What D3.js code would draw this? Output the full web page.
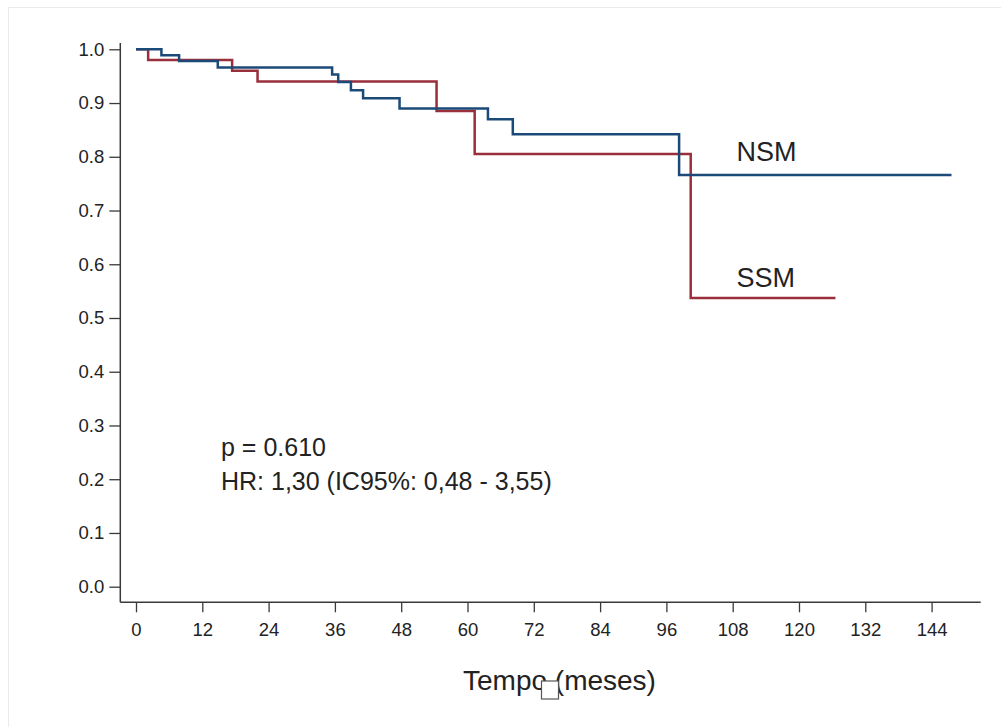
<!DOCTYPE html>
<html>
<head>
<meta charset="utf-8">
<script src="https://cdn.jsdelivr.net/npm/d3@7"></script>
<style>
  body { margin: 0; background: #fff; }
  svg { display: block; font-family: "Liberation Sans", Arial, sans-serif; }
  .axis text { fill: #222; }
  .axis line, .axis path { stroke: #3a3a3a; }
</style>
</head>
<body>
<div id="chart"></div>
<script>
// Kaplan-Meier steps (months, survival)
var nsmTime = [0, 4.6, 7.8, 14.8, 35.5, 36.6, 38.9, 41.1, 47.7, 63.7, 68.2, 98.3, 147.6];
var nsmSurv = [1.0, 0.989, 0.978, 0.966, 0.953, 0.939, 0.924, 0.909, 0.890, 0.870, 0.842, 0.766, 0.766];
var ssmTime = [0, 2.2, 17.4, 22.0, 54.4, 61.3, 100.4, 126.6];
var ssmSurv = [1.0, 0.980, 0.960, 0.940, 0.885, 0.805, 0.537, 0.537];

var xTicks = [0, 12, 24, 36, 48, 60, 72, 84, 96, 108, 120, 132, 144];
var yTicks = [0.0, 0.1, 0.2, 0.3, 0.4, 0.5, 0.6, 0.7, 0.8, 0.9, 1.0];
var seriesNames = ["NSM", "SSM"];
var notes = ["p = 0.610", "HR: 1,30 (IC95%: 0,48 - 3,55)"];
var xTitle = "Tempo (meses)";

var W = 1001, H = 727;

var svg = d3.select("#chart").append("svg")
    .attr("width", W)
    .attr("height", H);

// faint frame of the original picture
svg.append("rect")
    .attr("x", 8.5).attr("y", 7.5)
    .attr("width", W).attr("height", H)
    .attr("fill", "#fff")
    .attr("stroke", "#ebebeb");

var x = d3.scaleLinear().domain([0, 144]).range([136, 931.6]);
var y = d3.scaleLinear().domain([0, 1]).range([586.7, 49.3]);

var axisX = 120.3, axisY = 602.3;

// x axis
var gx = svg.append("g")
    .attr("class", "axis")
    .attr("transform", "translate(0," + axisY + ")")
    .call(d3.axisBottom(x).tickValues(xTicks).tickSize(10).tickPadding(11).tickSizeOuter(0));
gx.select(".domain").remove();
gx.selectAll("text").style("font-size", "18.5px");
gx.selectAll("line").attr("stroke-width", 1.3);
gx.append("line")
    .attr("x1", axisX).attr("x2", 980.7)
    .attr("stroke", "#3a3a3a").attr("stroke-width", 1.5);

// y axis
var gy = svg.append("g")
    .attr("class", "axis")
    .attr("transform", "translate(" + axisX + ",0)")
    .call(d3.axisLeft(y).tickValues(yTicks).tickFormat(d3.format(".1f")).tickSize(11).tickPadding(5).tickSizeOuter(0));
gy.select(".domain").remove();
gy.selectAll("text").style("font-size", "18.5px");
gy.selectAll("line").attr("stroke-width", 1.3);
gy.append("line")
    .attr("y1", y(1) - 6.3).attr("y2", axisY)
    .attr("stroke", "#3a3a3a").attr("stroke-width", 1.5);

// survival curves
var line = d3.line()
    .x(function(d) { return x(d[0]); })
    .y(function(d) { return y(d[1]); })
    .curve(d3.curveStepAfter);

var nsm = d3.zip(nsmTime, nsmSurv);
var ssm = d3.zip(ssmTime, ssmSurv);

svg.append("path")
    .datum(ssm)
    .attr("d", line)
    .attr("fill", "none")
    .attr("stroke", "#9a2f3c")
    .attr("stroke-width", 2.5);

svg.append("path")
    .datum(nsm)
    .attr("d", line)
    .attr("fill", "none")
    .attr("stroke", "#1c4a78")
    .attr("stroke-width", 2.5);

// curve labels
svg.append("text")
    .attr("x", x(108.7)).attr("y", y(0.7925))
    .style("font-size", "27px").attr("fill", "#222")
    .text(seriesNames[0]);
svg.append("text")
    .attr("x", x(108.7)).attr("y", y(0.5575))
    .style("font-size", "27px").attr("fill", "#222")
    .text(seriesNames[1]);

// statistics
svg.selectAll("text.note")
    .data(notes)
    .enter().append("text")
    .attr("class", "note")
    .attr("x", 221)
    .attr("y", function(d, i) { return 456 + i * 34; })
    .style("font-size", "25px")
    .attr("fill", "#222")
    .text(function(d) { return d; });

// x axis title
svg.append("text")
    .attr("x", 463).attr("y", 690)
    .style("font-size", "28px")
    .attr("fill", "#222")
    .text(xTitle);

// missing-glyph box that sits on the title
svg.append("rect")
    .attr("x", 541.5).attr("y", 681)
    .attr("width", 17).attr("height", 18)
    .attr("fill", "#fff")
    .attr("stroke", "#555")
    .attr("stroke-width", 1.2);
</script>
</body>
</html>
